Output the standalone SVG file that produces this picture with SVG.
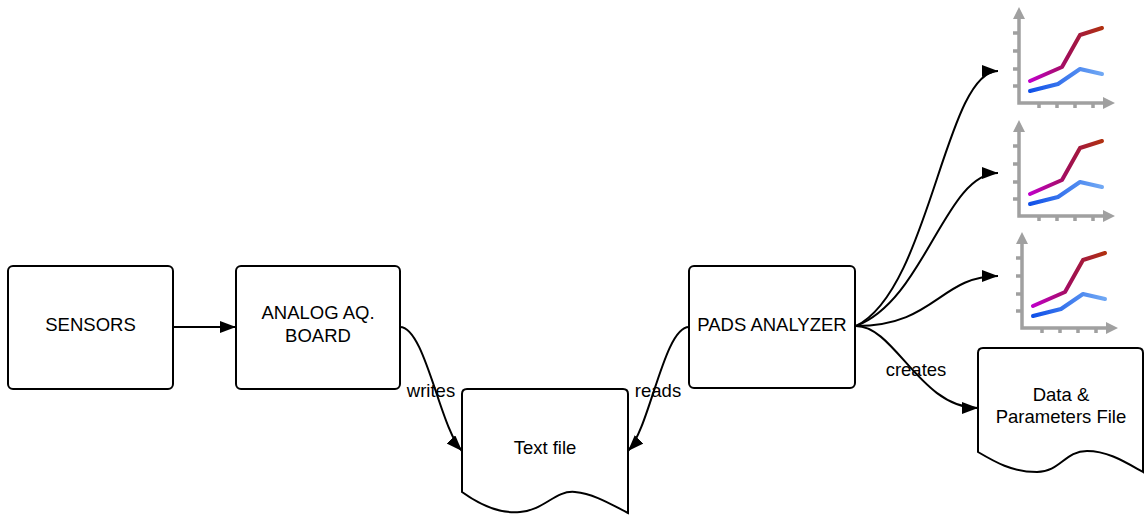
<svg xmlns="http://www.w3.org/2000/svg" width="1144" height="515" viewBox="0 0 1144 515">
<style>
.box{fill:#fff;stroke:#000;stroke-width:2}
.lbl{font-family:"Liberation Sans",Arial,sans-serif;font-size:18.5px;fill:#000;text-anchor:middle}
.conn{fill:none;stroke:#000;stroke-width:2}
.ax{fill:none;stroke:#a0a0a0;stroke-width:3.5}
.axh{fill:#a0a0a0}
.pl{fill:none;stroke:url(#gp);stroke-width:4;stroke-linecap:round;stroke-linejoin:round}
.bl{fill:none;stroke:url(#gb);stroke-width:4;stroke-linecap:round;stroke-linejoin:round}
</style>
<defs>
<marker id="ah" markerUnits="userSpaceOnUse" markerWidth="18" markerHeight="14" refX="16" refY="6" orient="auto">
<path d="M0,0 L16,6 L0,12 z" fill="#000"/>
</marker>
<linearGradient id="gp" gradientUnits="userSpaceOnUse" x1="11" y1="0" x2="83" y2="0">
<stop offset="0" stop-color="#c000c8"/>
<stop offset="0.55" stop-color="#a01050"/>
<stop offset="1" stop-color="#b03010"/>
</linearGradient>
<linearGradient id="gb" gradientUnits="userSpaceOnUse" x1="11" y1="0" x2="83" y2="0">
<stop offset="0" stop-color="#1050e8"/>
<stop offset="1" stop-color="#70a8f4"/>
</linearGradient>
<g id="chart">
<path class="ax" d="M0,-86 V0 H85"/>
<path class="axh" d="M-6,-84 L6,-84 L0,-96 z M84,-6 L84,6 L96,0 z"/>
<path class="ax" d="M-6,-70 H0 M-6,-52 H0 M-6,-34 H0 M-6,-17 H0 M20,0 V5 M38,0 V5 M56,0 V5 M74,0 V5"/>
<polyline class="pl" points="11,-22 43,-36 61,-68 83,-75"/>
<polyline class="bl" points="11,-12 39,-19 61,-34 83,-29"/>
</g>
</defs>
<rect width="1144" height="515" fill="#fff"/>
<g id="connectors">
<path class="conn" d="M173,327 H236" marker-end="url(#ah)"/>
<path class="conn" d="M400,327 C425,327 440,428 462,451" marker-end="url(#ah)"/>
<path class="conn" d="M689,327 C664,327 650,428 628,451" marker-end="url(#ah)"/>
<path class="conn" d="M856,326 C930,290 945,71 998,71" marker-end="url(#ah)"/>
<path class="conn" d="M856,326 C925,300 945,173 998,173" marker-end="url(#ah)"/>
<path class="conn" d="M856,326 C935,326 940,276 998,276" marker-end="url(#ah)"/>
<path class="conn" d="M856,326 C895,326 920,408 978,408" marker-end="url(#ah)"/>
<text class="lbl" x="431" y="397">writes</text>
<text class="lbl" x="658" y="397">reads</text>
<text class="lbl" x="916" y="376">creates</text>
</g>
<g id="sensors">
<rect class="box" x="8" y="266" width="165" height="123" rx="5"/>
<text class="lbl" x="90.5" y="331">SENSORS</text>
</g>
<g id="analog-board">
<rect class="box" x="236" y="266" width="164" height="123" rx="5"/>
<text class="lbl" x="318" y="319">ANALOG AQ.</text>
<text class="lbl" x="318" y="342">BOARD</text>
</g>
<g id="pads-analyzer">
<rect class="box" x="689" y="266" width="166" height="122" rx="5"/>
<text class="lbl" x="772" y="331">PADS ANALYZER</text>
</g>
<g id="text-file">
<path class="box" d="M467,389 H623 Q628,389 628,394 V513 C612,505 595,494 575,492 C555,490 545,510 520,512 C500,514 480,505 462,492 V394 Q462,389 467,389 z"/>
<text class="lbl" x="545" y="454">Text file</text>
</g>
<g id="data-file">
<path class="box" d="M983,348 H1138 Q1143,348 1143,353 V472 C1125,462 1108,451 1087,451 C1065,451 1060,472 1037,472 C1012,472 995,462 978,452 V353 Q978,348 983,348 z"/>
<text class="lbl" x="1061" y="401">Data &amp;</text>
<text class="lbl" x="1061" y="423">Parameters File</text>
</g>
<g id="chart-1"><use href="#chart" transform="translate(1019,103)"/></g>
<g id="chart-2"><use href="#chart" transform="translate(1019,216)"/></g>
<g id="chart-3"><use href="#chart" transform="translate(1022,328)"/></g>
</svg>
